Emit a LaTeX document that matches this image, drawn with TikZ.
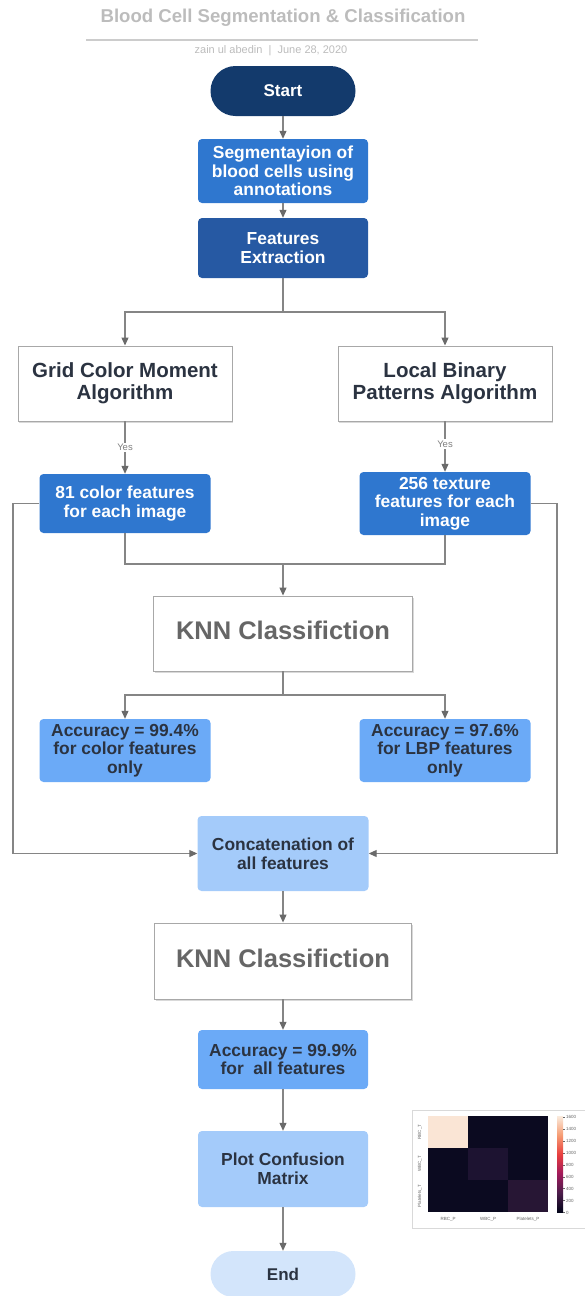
\documentclass[tikz,border=0pt]{standalone}
\usepackage{fontspec}
\setmainfont{Liberation Sans}
\usetikzlibrary{arrows.meta,shadows}
\definecolor{navy}{HTML}{133A6C}
\definecolor{midblue}{HTML}{2F77CF}
\definecolor{fedark}{HTML}{2659A3}
\definecolor{accblue}{HTML}{6BAAF7}
\definecolor{lightblue}{HTML}{A4CBFA}
\definecolor{endblue}{HTML}{D3E5FB}
\definecolor{txtdark}{HTML}{2B3341}
\definecolor{knngray}{HTML}{666666}
\definecolor{linegray}{HTML}{858585}
\definecolor{tipgray}{HTML}{6A6A6A}
\definecolor{boxgray}{HTML}{A8A8A8}
\definecolor{titlegray}{HTML}{BCBCBC}
\definecolor{cmhi}{HTML}{FAE5D5}
\definecolor{cmlo}{HTML}{0B0A20}
\definecolor{cmdA}{HTML}{1D1331}
\definecolor{cmdB}{HTML}{271634}
\definecolor{rk0}{HTML}{03051A}
\definecolor{rk1}{HTML}{4C1D4B}
\definecolor{rk2}{HTML}{A11A5B}
\definecolor{rk3}{HTML}{E83F3F}
\definecolor{rk4}{HTML}{F69C73}
\definecolor{rk5}{HTML}{FAEBDD}
\pgfdeclareverticalshading{rocketbar}{100bp}{color(0bp)=(rk0); color(25bp)=(rk0); color(35bp)=(rk1); color(45bp)=(rk2); color(55bp)=(rk3); color(65bp)=(rk4); color(75bp)=(rk5); color(100bp)=(rk5)}
\begin{document}
\begin{tikzpicture}[x=1pt,y=-1pt,
  box/.style={rectangle, rounded corners=4pt, inner sep=0pt, align=center,
    font=\bfseries\fontsize{17.4}{18.7}\selectfont},
  darkbox/.style={box, fill=#1, text=white},
  lightbox/.style={box, fill=#1, text=txtdark},
  wbox/.style={rectangle, draw=boxgray, line width=0.9pt, fill=white, inner sep=0pt, align=center,
    drop shadow={shadow xshift=1pt, shadow yshift=-2pt, opacity=0.15, fill=black}},
  gbox/.style={wbox, text=txtdark, font=\bfseries\fontsize{20.5}{22}\selectfont},
  kbox/.style={wbox, text=knngray, text depth=6pt, font=\bfseries\fontsize{25.5}{27}\selectfont},
  pill/.style={rectangle, inner sep=0pt, font=\bfseries\fontsize{17}{18.5}\selectfont},
  conn/.style={draw=linegray, line width=1.1pt},
  arr/.style={conn, -{Triangle[length=8pt,width=7pt,color=tipgray]}},
  yes/.style={fill=white, inner sep=1.5pt, text=gray, font=\fontsize{9.5}{10}\selectfont},
  cmtxt/.style={inner sep=0pt, text=black!60, font=\fontsize{4.5}{5}\selectfont}
]
\useasboundingbox (0,0) rectangle (584,1296);

% header
\node[font=\bfseries\fontsize{18.6}{20}\selectfont, text=titlegray] (title) at (283,17.5) {Blood Cell Segmentation \& Classification};
\draw[draw=black!20, line width=2pt] (86,40) -- (478,40);
\node[font=\fontsize{11}{12}\selectfont, text=titlegray] (sub) at (271,50.5) {zain ul abedin\ \ |\ \ June 28, 2020};

% nodes
\node[pill, rounded corners=25pt, fill=navy, text=white, minimum width=145pt, minimum height=50pt] (start) at (283,91) {Start};
\node[darkbox=midblue, minimum width=170pt, minimum height=64pt] (seg) at (283,171) {Segmentayion of\\blood cells using\\annotations};
\node[darkbox=fedark, minimum width=170pt, minimum height=60pt] (fe) at (283,248) {Features\\Extraction};
\coordinate (j1) at (283,312);
\node[gbox, minimum width=214pt, minimum height=75pt] (gcm) at (125,383.5) {Grid Color Moment\\Algorithm};
\node[gbox, minimum width=214pt, minimum height=75pt] (lbp) at (445,383.5) {Local Binary\\Patterns Algorithm};
\node[darkbox=midblue, minimum width=171pt, minimum height=59pt] (c81) at (125,503.5) {81 color features\\for each image};
\node[darkbox=midblue, minimum width=171pt, minimum height=63pt] (c256) at (445,503.5) {256 texture\\features for each\\image};
\coordinate (j2) at (283,564);
\node[kbox, minimum width=259pt, minimum height=75pt] (knn1) at (283,633.5) {KNN Classifiction};
\coordinate (j3) at (283,695);
\node[lightbox=accblue, minimum width=171pt, minimum height=63pt] (acc1) at (125,750.5) {Accuracy = 99.4\%\\for color features\\only};
\node[lightbox=accblue, minimum width=171pt, minimum height=63pt] (acc2) at (445,750.5) {Accuracy = 97.6\%\\for LBP features\\only};
\node[lightbox=lightblue, minimum width=171pt, minimum height=75pt] (concat) at (283,853.5) {Concatenation of\\all features};
\node[kbox, minimum width=257pt, minimum height=76pt] (knn2) at (283,961) {KNN Classifiction};
\node[lightbox=accblue, minimum width=170pt, minimum height=59pt] (acc3) at (283,1059.5) {Accuracy = 99.9\%\\for\ \ all features};
\node[lightbox=lightblue, minimum width=170pt, minimum height=76pt] (plot) at (283,1169) {Plot Confusion\\Matrix};
\node[pill, rounded corners=23pt, fill=endblue, text=txtdark, minimum width=145pt, minimum height=46pt] (end) at (283,1274) {End};
\coordinate (lrail) at (13,0);
\coordinate (rrail) at (557,0);

% connectors
\draw[arr] (start) -- (seg);
\draw[arr] (seg) -- (fe);
\draw[conn] (fe.south) -- (j1);
\draw[arr] (j1) -| (gcm.north);
\draw[arr] (j1) -| (lbp.north);
\draw[arr] (gcm.south) -- node[yes] (yes1) {Yes} (c81.north);
\draw[arr] (lbp.south) -- node[yes, pos=0.45] (yes2) {Yes} (c256.north);
\draw[conn] (c81.south) |- (j2) -| (c256.south);
\draw[arr] (j2) -- (knn1.north);
\draw[conn] (knn1.south) -- (j3);
\draw[arr] (j3) -| (acc1.north);
\draw[arr] (j3) -| (acc2.north);
\draw[arr] (c81.west) -- (c81.west -| lrail) |- (concat.west);
\draw[arr] (c256.east) -- (c256.east -| rrail) |- (concat.east);
\draw[arr] (concat) -- (knn2);
\draw[arr] (knn2) -- (acc3);
\draw[arr] (acc3) -- (plot);
\draw[arr] (plot) -- (end);

% confusion matrix picture
\draw[draw=black!15, fill=white, line width=0.8pt] (412,1110) rectangle (600,1228);
\foreach \i/\j/\c in {0/0/cmhi,1/0/cmlo,2/0/cmlo,0/1/cmlo,1/1/cmdA,2/1/cmlo,0/2/cmlo,1/2/cmlo,2/2/cmdB}
  \fill[fill=\c] ({428+40*\i},{1116+32*\j}) rectangle ++(40,32);
\shade[shading=rocketbar] (557,1116) rectangle (563,1212);
\foreach \v [count=\k] in {0,200,400,600,800,1000,1200,1400,1600} {
  \draw[draw=black!60, line width=0.3pt] (563,{1212.5-0.0597*\v}) -- (565,{1212.5-0.0597*\v});
  \node[cmtxt, anchor=west] (tick\k) at (566,{1212.5-0.0597*\v}) {\v};
}
\node[cmtxt, rotate=90] (rbct) at (420,1132) {RBC\_T};
\node[cmtxt, rotate=90] (wbct) at (420,1164) {WBC\_T};
\node[cmtxt, rotate=90] (plat) at (420,1196) {Platelets\_T};
\node[cmtxt] (rbcp) at (448,1219) {RBC\_P};
\node[cmtxt] (wbcp) at (488,1219) {WBC\_P};
\node[cmtxt] (platp) at (528,1219) {Platelets\_P};
\end{tikzpicture}
\end{document}
